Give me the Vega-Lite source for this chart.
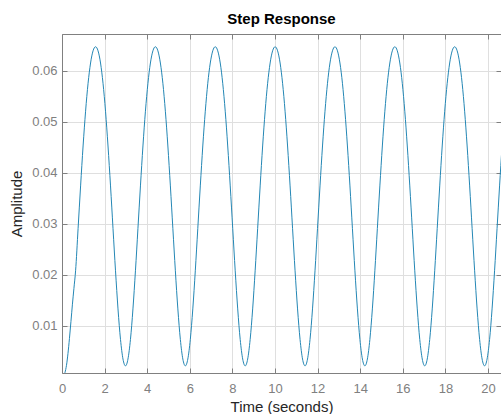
{
  "$schema": "https://vega.github.io/schema/vega-lite/v6.json",
  "width": 439,
  "height": 339,
  "autosize": {"type": "none"},
  "padding": {"left": 62, "top": 34, "right": 0, "bottom": 41},
  "background": "white",
  "title": {"text": "Step Response", "font": "Liberation Sans", "fontSize": 15, "fontWeight": "bold", "color": "#000000", "anchor": "middle", "baseline": "alphabetic", "offset": -5},
  "config": {"view": {"stroke": null}},
  "data": {"values": [
    {"t":0,"y":0},{"t":0.07,"y":0.0002},{"t":0.14,"y":0.0008},{"t":0.21,"y":0.0022},{"t":0.28,"y":0.0045},{"t":0.35,"y":0.0075},{"t":0.42,"y":0.0108},{"t":0.49,"y":0.0142},{"t":0.56,"y":0.0173},
    {"t":0.638,"y":0.02075},{"t":0.755,"y":0.02903},{"t":0.873,"y":0.0374},{"t":0.99,"y":0.04523},{"t":1.107,"y":0.05205},{"t":1.224,"y":0.05753},{"t":1.341,"y":0.06151},{"t":1.458,"y":0.0639},{"t":1.575,"y":0.0647},{"t":1.692,"y":0.0639},{"t":1.809,"y":0.06151},{"t":1.926,"y":0.05753},{"t":2.043,"y":0.05205},{"t":2.16,"y":0.04523},{"t":2.278,"y":0.0374},{"t":2.395,"y":0.02903},{"t":2.512,"y":0.02075},{"t":2.629,"y":0.01327},{"t":2.746,"y":0.00729},{"t":2.863,"y":0.00344},
    {"t":2.98,"y":0.0021},{"t":3.097,"y":0.00344},{"t":3.214,"y":0.00729},{"t":3.331,"y":0.01327},{"t":3.448,"y":0.02075},{"t":3.565,"y":0.02903},{"t":3.683,"y":0.0374},{"t":3.8,"y":0.04523},{"t":3.917,"y":0.05205},{"t":4.034,"y":0.05753},{"t":4.151,"y":0.06151},{"t":4.268,"y":0.0639},{"t":4.385,"y":0.0647},{"t":4.502,"y":0.0639},{"t":4.619,"y":0.06151},{"t":4.736,"y":0.05753},{"t":4.853,"y":0.05205},{"t":4.97,"y":0.04523},{"t":5.088,"y":0.0374},{"t":5.205,"y":0.02903},{"t":5.322,"y":0.02075},{"t":5.439,"y":0.01327},{"t":5.556,"y":0.00729},{"t":5.673,"y":0.00344},
    {"t":5.79,"y":0.0021},{"t":5.907,"y":0.00344},{"t":6.024,"y":0.00729},{"t":6.141,"y":0.01327},{"t":6.258,"y":0.02075},{"t":6.375,"y":0.02903},{"t":6.493,"y":0.0374},{"t":6.61,"y":0.04523},{"t":6.727,"y":0.05205},{"t":6.844,"y":0.05753},{"t":6.961,"y":0.06151},{"t":7.078,"y":0.0639},{"t":7.195,"y":0.0647},{"t":7.312,"y":0.0639},{"t":7.429,"y":0.06151},{"t":7.546,"y":0.05753},{"t":7.663,"y":0.05205},{"t":7.78,"y":0.04523},{"t":7.898,"y":0.0374},{"t":8.015,"y":0.02903},{"t":8.132,"y":0.02075},{"t":8.249,"y":0.01327},{"t":8.366,"y":0.00729},{"t":8.483,"y":0.00344},
    {"t":8.6,"y":0.0021},{"t":8.717,"y":0.00344},{"t":8.834,"y":0.00729},{"t":8.951,"y":0.01327},{"t":9.068,"y":0.02075},{"t":9.185,"y":0.02903},{"t":9.303,"y":0.0374},{"t":9.42,"y":0.04523},{"t":9.537,"y":0.05205},{"t":9.654,"y":0.05753},{"t":9.771,"y":0.06151},{"t":9.888,"y":0.0639},{"t":10.005,"y":0.0647},{"t":10.122,"y":0.0639},{"t":10.239,"y":0.06151},{"t":10.356,"y":0.05753},{"t":10.473,"y":0.05205},{"t":10.59,"y":0.04523},{"t":10.708,"y":0.0374},{"t":10.825,"y":0.02903},{"t":10.942,"y":0.02075},{"t":11.059,"y":0.01327},{"t":11.176,"y":0.00729},{"t":11.293,"y":0.00344},
    {"t":11.41,"y":0.0021},{"t":11.527,"y":0.00344},{"t":11.644,"y":0.00729},{"t":11.761,"y":0.01327},{"t":11.878,"y":0.02075},{"t":11.995,"y":0.02903},{"t":12.113,"y":0.0374},{"t":12.23,"y":0.04523},{"t":12.347,"y":0.05205},{"t":12.464,"y":0.05753},{"t":12.581,"y":0.06151},{"t":12.698,"y":0.0639},{"t":12.815,"y":0.0647},{"t":12.932,"y":0.0639},{"t":13.049,"y":0.06151},{"t":13.166,"y":0.05753},{"t":13.283,"y":0.05205},{"t":13.4,"y":0.04523},{"t":13.518,"y":0.0374},{"t":13.635,"y":0.02903},{"t":13.752,"y":0.02075},{"t":13.869,"y":0.01327},{"t":13.986,"y":0.00729},{"t":14.103,"y":0.00344},
    {"t":14.22,"y":0.0021},{"t":14.337,"y":0.00344},{"t":14.454,"y":0.00729},{"t":14.571,"y":0.01327},{"t":14.688,"y":0.02075},{"t":14.805,"y":0.02903},{"t":14.923,"y":0.0374},{"t":15.04,"y":0.04523},{"t":15.157,"y":0.05205},{"t":15.274,"y":0.05753},{"t":15.391,"y":0.06151},{"t":15.508,"y":0.0639},{"t":15.625,"y":0.0647},{"t":15.742,"y":0.0639},{"t":15.859,"y":0.06151},{"t":15.976,"y":0.05753},{"t":16.093,"y":0.05205},{"t":16.21,"y":0.04523},{"t":16.328,"y":0.0374},{"t":16.445,"y":0.02903},{"t":16.562,"y":0.02075},{"t":16.679,"y":0.01327},{"t":16.796,"y":0.00729},{"t":16.913,"y":0.00344},
    {"t":17.03,"y":0.0021},{"t":17.147,"y":0.00344},{"t":17.264,"y":0.00729},{"t":17.381,"y":0.01327},{"t":17.498,"y":0.02075},{"t":17.615,"y":0.02903},{"t":17.733,"y":0.0374},{"t":17.85,"y":0.04523},{"t":17.967,"y":0.05205},{"t":18.084,"y":0.05753},{"t":18.201,"y":0.06151},{"t":18.318,"y":0.0639},{"t":18.435,"y":0.0647},{"t":18.552,"y":0.0639},{"t":18.669,"y":0.06151},{"t":18.786,"y":0.05753},{"t":18.903,"y":0.05205},{"t":19.02,"y":0.04523},{"t":19.138,"y":0.0374},{"t":19.255,"y":0.02903},{"t":19.372,"y":0.02075},{"t":19.489,"y":0.01327},{"t":19.606,"y":0.00729},{"t":19.723,"y":0.00344},
    {"t":19.84,"y":0.0021},{"t":19.957,"y":0.00344},{"t":20.074,"y":0.00729},{"t":20.191,"y":0.01327},{"t":20.308,"y":0.02075},{"t":20.425,"y":0.02903},{"t":20.543,"y":0.0374},{"t":20.66,"y":0.04523},{"t":20.777,"y":0.05205},{"t":20.894,"y":0.05753},{"t":21.011,"y":0.06151}
  ]},
  "layer": [
    {
      "mark": {"type": "line", "color": "#2487b5", "strokeWidth": 1, "interpolate": "monotone", "clip": true},
      "encoding": {
        "x": {"field": "t", "type": "quantitative", "scale": {"domain": [0, 20.61], "nice": false, "zero": false},
          "axis": {"orient": "bottom", "values": [0,2,4,6,8,10,12,14,16,18,20], "grid": true, "gridColor": "#dfdfdf", "domainColor": "#808080", "tickColor": "#808080", "tickSize": -5, "labelColor": "#808080", "labelFont": "Liberation Sans", "labelFontSize": 13, "labelPadding": 14, "labelFlush": false, "labelOverlap": false, "title": "Time (seconds)", "titleFont": "Liberation Sans", "titleFontSize": 15, "titleFontWeight": "normal", "titleColor": "#262626", "titlePadding": 4}},
        "y": {"field": "y", "type": "quantitative", "scale": {"domain": [0.0007, 0.0672], "nice": false, "zero": false},
          "axis": {"orient": "left", "values": [0.01,0.02,0.03,0.04,0.05,0.06], "format": ".2f", "grid": true, "gridColor": "#dfdfdf", "domainColor": "#808080", "tickColor": "#808080", "tickSize": -5, "labelColor": "#808080", "labelFont": "Liberation Sans", "labelFontSize": 13, "labelPadding": 10, "labelFlush": false, "labelOverlap": false, "title": "Amplitude", "titleFont": "Liberation Sans", "titleFontSize": 15, "titleFontWeight": "normal", "titleColor": "#262626", "titlePadding": 7}}
      }
    },
    {
      "mark": {"type": "line", "opacity": 0, "clip": true},
      "encoding": {
        "x": {"field": "t", "type": "quantitative", "axis": {"orient": "top", "values": [0,2,4,6,8,10,12,14,16,18,20], "labels": false, "grid": false, "domain": true, "domainColor": "#808080", "tickColor": "#808080", "tickSize": -5, "title": null}},
        "y": {"field": "y", "type": "quantitative", "axis": {"orient": "right", "values": [0.01,0.02,0.03,0.04,0.05,0.06], "labels": false, "grid": false, "domain": false, "tickColor": "#808080", "tickSize": -5, "title": null}}
      }
    }
  ],
  "resolve": {"axis": {"x": "independent", "y": "independent"}}
}
